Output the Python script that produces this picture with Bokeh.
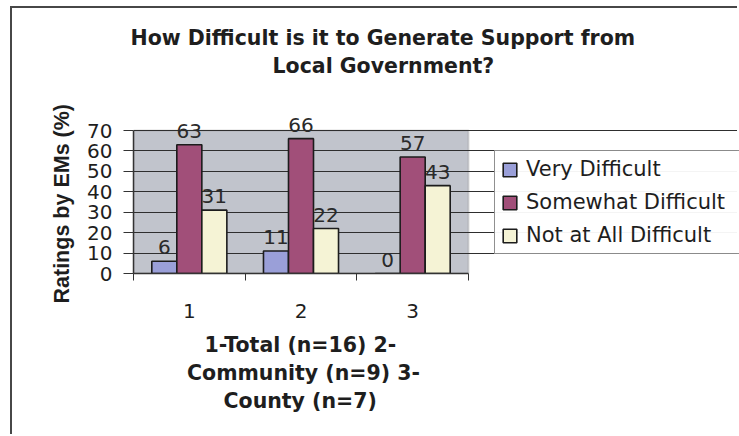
from bokeh.plotting import figure
from bokeh.models import (ColumnDataSource, FixedTicker, Legend, LegendItem, Title,
                          BoxAnnotation, Range1d, LinearAxis)
from bokeh.core.properties import value
from bokeh.embed import file_html
from bokeh.resources import INLINE

# ---------------- data ----------------
categories = [1, 2, 3]
category_labels = ["1", "2", "3"]
series_names = ["Very Difficult", "Somewhat Difficult", "Not at All Difficult"]
very_difficult = [6, 11, 0]
somewhat_difficult = [63, 66, 57]
not_at_all_difficult = [31, 22, 43]
y_ticks = [0, 10, 20, 30, 40, 50, 60, 70]
title_lines = ["How Difficult is it to Generate Support from", "Local Government?"]
xlabel_lines = ["1-Total (n=16)  2-", "Community (n=9)  3-", "County (n=7)"]
y_label = "Ratings by EMs (%)"

# ---------------- style / layout ----------------
colors = ["#9a9fd8", "#a14f79", "#f5f3d5"]
OX, OY = 12, 8                      # canvas origin inside the outer border
W, H = 739 - OX, 436 - OY
FL = 133 - OX                       # frame left (y axis)
PX_CAT = (468 - 133) / 3            # pixels per category
Y70, Y0 = 130 - OY, 273 - OY        # pixel rows of 70 and 0
FT = 72                             # frame top (room for labels above 70)
ymax = y_ticks[-1] * (Y0 - FT) / (Y0 - Y70)
xmax = 0.5 + (W - FL) / PX_CAT
FONT = "DejaVu Sans"
TXT = "#1e1e1e"

p = figure(width=W, height=H, output_backend="svg", toolbar_location=None,
           x_range=Range1d(0.5, xmax), y_range=Range1d(0, ymax),
           min_border_left=FL, min_border_right=0,
           min_border_top=FT, min_border_bottom=H - Y0,
           styles={"margin-left": "10px", "margin-top": "6px",
                   "border-left": "2px solid #474747", "border-top": "2px solid #474747"})
p.background_fill_color = "white"
p.border_fill_color = "white"
p.outline_line_color = None

# plot area (grey) drawn under the grid
area = BoxAnnotation(left=0.5, right=3.5, bottom=0, top=y_ticks[-1],
                     fill_color="#c1c4cc", fill_alpha=1, line_color="#8a8a8a",
                     line_width=2, level="underlay")
p.center = [area] + list(p.center)

offsets = [-0.224, 0.0, 0.224]
bw = 0.224
renderers = []
for series, off, col in zip([very_difficult, somewhat_difficult, not_at_all_difficult], offsets, colors):
    src = ColumnDataSource(dict(x=[c + off for c in categories], top=series,
                                lab=[str(v) for v in series]))
    r = p.vbar(x="x", top="top", width=bw, source=src, fill_color=col,
               line_color="#1c1c1c", line_width=1.6)
    renderers.append(r)
    p.text(x="x", y="top", text="lab", source=src, text_align="center",
           text_baseline="alphabetic", y_offset=-14, text_font=value(FONT),
           text_font_size="20px", text_color="#2a2a2a")

# x axis
p.xaxis.ticker = FixedTicker(ticks=categories, minor_ticks=[0.5, 1.5, 2.5, 3.5])
p.xaxis.bounds = (0.5, 3.5)
p.xaxis.major_label_overrides = {c: l for c, l in zip(categories, category_labels)}
p.xaxis.major_tick_out = 0
p.xaxis.major_tick_in = 0
p.xaxis.minor_tick_out = 7
p.xaxis.minor_tick_in = 0
p.xaxis.minor_tick_line_color = "#333333"
p.xaxis.axis_line_color = "#333333"
p.xaxis.axis_line_width = 1.5
p.xaxis.major_label_standoff = 23
p.xaxis.major_label_text_font = FONT
p.xaxis.major_label_text_font_size = "20px"
p.xaxis.major_label_text_color = TXT

# invisible spacer axis below the tick labels (adds vertical room only)
spacer = LinearAxis(ticker=FixedTicker(ticks=[categories[1]]), axis_line_color=None,
                    major_tick_line_color=None, minor_tick_line_color=None,
                    major_tick_out=9, major_tick_in=0, minor_tick_out=0, minor_tick_in=0,
                    major_label_standoff=0, major_label_overrides={categories[1]: ""},
                    major_label_text_font_size="1px")
p.add_layout(spacer, "below")

# y axis
p.yaxis.ticker = FixedTicker(ticks=y_ticks)
p.yaxis.bounds = (0, y_ticks[-1])
p.yaxis.minor_tick_line_color = None
p.yaxis.major_tick_out = 10
p.yaxis.major_tick_in = 0
p.yaxis.major_tick_line_color = "#333333"
p.yaxis.axis_line_color = "#333333"
p.yaxis.axis_line_width = 1.5
p.yaxis.major_label_standoff = 11
p.yaxis.major_label_text_font = FONT
p.yaxis.major_label_text_font_size = "20px"
p.yaxis.major_label_text_color = TXT

# y axis title (rotated), starts just below the 0 line
yt = Title(text=y_label, align="left", offset=-30, standoff=22,
           text_font="Liberation Sans", text_font_style="bold", text_font_size="21.5px",
           text_color=TXT)
p.add_layout(yt, "left")

p.xgrid.visible = False
p.ygrid.grid_line_color = "#2e2e2e"
p.ygrid.grid_line_width = 1
p.ygrid.bounds = (0.5, 3.5)

# chart title (two lines), placed above the frame
t2 = Title(text=title_lines[1], align="left", offset=139, standoff=5,
           text_font=FONT, text_font_style="bold", text_font_size="20.5px", text_color=TXT)
t1 = Title(text=title_lines[0], align="left", offset=-3, standoff=0,
           text_font=FONT, text_font_style="bold", text_font_size="20.5px", text_color=TXT)
p.add_layout(t2, "above")
p.add_layout(t1, "above")

# x axis title (three centred lines)
for line, off in zip(xlabel_lines, [71, 53.5, 90]):
    p.add_layout(Title(text=line, align="left", offset=off, standoff=2,
                       text_font=FONT, text_font_style="bold", text_font_size="20.5px",
                       text_color=TXT), "below")

# legend
legend = Legend(items=[LegendItem(label=n, renderers=[r]) for n, r in zip(series_names, renderers)],
                location=(494 - 133, 19))
legend.border_line_color = "#222222"
legend.border_line_width = 1
legend.background_fill_color = "white"
legend.padding = 6
legend.spacing = 9
legend.margin = 0
legend.label_standoff = 8
legend.glyph_width = 17
legend.glyph_height = 17
legend.label_height = 24
legend.label_width = 220
legend.label_text_font = FONT
legend.label_text_font_size = "21px"
legend.label_text_color = TXT
p.add_layout(legend)

open("out.html", "w").write(file_html(p, INLINE))
